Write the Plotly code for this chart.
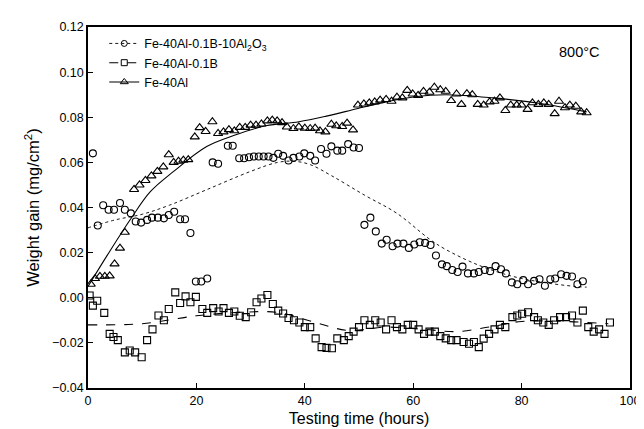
import plotly.graph_objects as go

# ---- data: Fe-40Al-0.1B-10Al2O3 (circles)
circ_x = [0.9, 1.8, 2.8, 3.8, 4.8, 5.9, 6.8, 7.9, 8.8, 9.8, 10.9, 11.8, 12.9, 14.0, 14.9, 15.9, 17.0, 17.9, 18.9,
          19.9, 20.9, 22.0, 23.0, 24.0, 25.8, 26.7, 27.9, 28.8, 29.7, 30.6, 31.5, 32.4, 33.3, 34.2, 35.1, 36.0,
          37.0, 37.9, 39.0, 39.9, 41.0, 41.9, 43.0, 44.0, 44.9, 46.0, 46.9, 48.0, 49.0, 50.0,
          51.0, 52.1, 53.1, 54.2, 55.1, 56.2, 57.1, 58.2, 59.2, 60.2, 61.2, 62.2, 63.2, 64.2, 65.3, 66.2,
          67.2, 68.2, 69.1, 70.1, 71.2, 72.1, 73.2, 74.2, 75.2, 76.2, 77.1, 78.2, 79.2, 80.3, 81.2, 82.3,
          83.3, 84.3, 85.3, 86.2, 87.3, 88.3, 89.3, 90.3, 91.3]
circ_y = [0.064, 0.032, 0.041, 0.039, 0.039, 0.042, 0.039, 0.0374, 0.0338, 0.0333, 0.0345, 0.0355, 0.0355, 0.0352,
          0.0367, 0.0381, 0.0348, 0.0348, 0.0287,
          0.0072, 0.0072, 0.0085, 0.060, 0.0594, 0.0674, 0.0674, 0.0618, 0.0618, 0.0623, 0.0626, 0.0626, 0.0626,
          0.0626, 0.062, 0.0638, 0.0629,
          0.0608, 0.062, 0.0626, 0.064, 0.0629, 0.0608, 0.0659, 0.0638, 0.0671, 0.0652, 0.0652, 0.0681, 0.0666, 0.0664,
          0.0323, 0.0355, 0.0294, 0.024, 0.0257, 0.0228, 0.024, 0.024, 0.0221, 0.0236, 0.0246, 0.0243, 0.0234,
          0.0187, 0.0148, 0.014,
          0.0123, 0.0114, 0.0138, 0.0108, 0.0108, 0.0114, 0.0123, 0.0118, 0.014, 0.0126, 0.0108, 0.0068, 0.006,
          0.0078, 0.006, 0.0075,
          0.0082, 0.0053, 0.0082, 0.0085, 0.0104, 0.0097, 0.0094, 0.006, 0.0073]

# ---- data: Fe-40Al-0.1B (squares)
sq_x = [0.3, 0.9, 1.7, 3.0, 4.0, 4.7, 5.5, 6.8, 7.7, 8.7, 9.9, 10.9, 11.9, 13.0, 14.0, 14.9, 16.1, 17.0, 18.0,
        18.9, 19.9, 21.1, 22.0, 23.1, 24.1, 25.0, 26.0, 27.0, 28.0, 29.1, 30.1, 31.1, 32.0, 33.1, 34.1, 35.1,
        36.0, 37.0, 38.0, 39.0, 40.0, 41.0, 42.0, 43.1, 44.0, 45.0, 46.0, 47.2, 48.1, 49.0, 50.0, 51.0, 52.0,
        53.0, 54.0, 55.0, 56.0, 57.0, 58.0, 59.0, 60.0, 61.0, 62.0, 63.0, 64.0, 65.0, 66.0, 67.0, 68.0, 69.3,
        70.3, 71.2, 72.1, 73.0, 74.0, 75.0, 76.0, 77.0, 78.3, 79.2, 80.1, 81.2, 82.3, 83.0, 84.0, 85.0, 86.0,
        87.1, 88.2, 89.3, 90.3, 91.3, 92.3, 93.3, 94.3, 95.3, 96.3]
sq_y = [0.001, -0.0035, -0.0013, -0.0067, -0.016, -0.0174, -0.0188, -0.0242, -0.0234, -0.0242, -0.0264, -0.0188,
        -0.014, -0.0079, -0.010, -0.005, 0.0024, -0.0023, 0.0006,
        -0.002, 0.0004, -0.005, -0.0067, -0.0046, -0.0061, -0.0046, -0.0067, -0.0061, -0.008, -0.0086, -0.0064,
        -0.002, -0.0003, 0.0012, -0.0028, -0.0057,
        -0.007, -0.009, -0.010, -0.011, -0.013, -0.013, -0.018, -0.0219, -0.0222, -0.0224, -0.018, -0.0188,
        -0.017, -0.015, -0.013, -0.010, -0.012,
        -0.010, -0.011, -0.014, -0.010, -0.013, -0.014, -0.012, -0.012, -0.014, -0.016, -0.015, -0.015, -0.017,
        -0.018, -0.0188, -0.0188, -0.0196,
        -0.0204, -0.0196, -0.0219, -0.0181, -0.016, -0.014, -0.012, -0.013, -0.0086, -0.0079, -0.0071, -0.0064,
        -0.0086, -0.010, -0.011, -0.012, -0.010,
        -0.0086, -0.0086, -0.0079, -0.011, -0.0057, -0.013, -0.015, -0.014, -0.016, -0.011]

# ---- data: Fe-40Al (triangles)
tri_x = [0.5, 1.3, 2.2, 3.1, 4.0, 4.9, 5.9, 6.8, 8.5, 9.5, 10.6, 11.7, 12.8, 13.9, 14.9, 15.8, 16.7, 17.6, 18.5,
         19.7, 20.6, 21.7, 22.95, 24.0, 25.0, 26.0, 27.0, 28.0, 29.0, 30.0, 31.0, 32.0, 33.1, 34.0, 34.9, 35.8,
         36.7, 37.9, 38.9, 40.0, 41.0, 41.9, 42.8, 43.8, 44.9, 45.8, 46.9, 47.8, 48.9,
         49.8, 50.9, 51.9, 52.9, 53.9, 55.0, 56.0, 57.0, 58.0, 58.9, 59.9, 60.9, 61.9, 63.0, 63.9, 65.0, 66.0,
         67.0, 68.0, 68.9, 69.9, 70.9, 71.9, 73.0, 74.1, 75.0, 76.0, 77.0, 78.0, 79.1, 80.0, 81.1, 82.0, 83.1,
         84.1, 85.0, 86.1, 86.9, 88.0, 88.9, 90.0, 91.0, 92.0]
tri_y = [0.006, 0.0085, 0.0095, 0.0095, 0.0097, 0.015, 0.022, 0.029, 0.048, 0.050, 0.052, 0.054, 0.056, 0.058,
         0.0634, 0.060, 0.0605, 0.061, 0.0612,
         0.0713, 0.0754, 0.0737, 0.078, 0.0728, 0.0735, 0.0745, 0.074, 0.0755, 0.0755, 0.0765, 0.0765, 0.077,
         0.0784, 0.0787, 0.0784, 0.0776,
         0.0757, 0.075, 0.0757, 0.0752, 0.075, 0.0752, 0.074, 0.0735, 0.0769, 0.0762, 0.0759, 0.0774, 0.0744,
         0.0854, 0.0859, 0.0864, 0.0868, 0.0876, 0.0879, 0.0871, 0.0889, 0.0886, 0.0919, 0.0903, 0.0897, 0.0915,
         0.0911, 0.0933, 0.0922, 0.0915,
         0.0874, 0.0903, 0.0857, 0.0905, 0.090, 0.0857, 0.0854, 0.0868, 0.0871, 0.0886, 0.083, 0.0854, 0.0854,
         0.0854, 0.0835, 0.0864, 0.0857,
         0.0864, 0.0857, 0.0816, 0.0871, 0.0842, 0.0854, 0.0849, 0.0824, 0.082]

# ---- fitted curves (knots)
fit_circ_x = [0, 5, 10, 15, 22, 30, 35, 38, 41, 45, 51, 57, 63, 66, 72, 78, 84, 90, 92]
fit_circ_y = [0.031, 0.0345, 0.037, 0.041, 0.048, 0.056, 0.060, 0.0605, 0.059, 0.054, 0.0455, 0.0374, 0.026,
              0.0214, 0.0145, 0.0097, 0.0068, 0.005, 0.0047]
fit_sq_x = [0, 10, 20, 28, 35, 42, 48, 55, 62, 68, 74, 80, 88, 96]
fit_sq_y = [-0.012, -0.0115, -0.008, -0.0065, -0.0065, -0.011, -0.0145, -0.013, -0.014, -0.015, -0.013,
            -0.0105, -0.0105, -0.0115]
fit_tri_x = [0, 3.6, 7.9, 11.5, 15.8, 21.9, 27, 32.8, 38.9, 44, 49.8, 55, 60, 66, 74.7, 83.8, 92]
fit_tri_y = [0.005, 0.019, 0.035, 0.047, 0.056, 0.067, 0.072, 0.0762, 0.078, 0.0805, 0.0839, 0.0868, 0.089,
             0.090, 0.0886, 0.086, 0.0824]

names = ["Fe-40Al-0.1B-10Al<sub>2</sub>O<sub>3</sub>", "Fe-40Al-0.1B", "Fe-40Al"]
x_ticks = [0, 20, 40, 60, 80, 100]
y_ticks = [-0.04, -0.02, 0.00, 0.02, 0.04, 0.06, 0.08, 0.10, 0.12]

FONT = "Arial, Liberation Sans, sans-serif"
fig = go.Figure()

series = [
    (circ_x, circ_y, fit_circ_x, fit_circ_y, "circle-open", "dot", 7),
    (sq_x, sq_y, fit_sq_x, fit_sq_y, "square-open", "dash", 7),
    (tri_x, tri_y, fit_tri_x, fit_tri_y, "triangle-up-open", "solid", 8),
]
for (sx, sy, fx, fy, sym, dash, ms), nm in zip(series, names):
    lw = 0.9 if dash == "dot" else 1.1
    fig.add_trace(go.Scatter(x=fx, y=fy, mode="lines", line=dict(color="black", width=lw, dash=dash,
                                                                   shape="spline", smoothing=1.0),
                             showlegend=False, hoverinfo="skip"))
    fig.add_trace(go.Scatter(x=sx, y=sy, mode="markers",
                             marker=dict(symbol=sym, size=ms, color="black", line=dict(width=1.1, color="black")),
                             showlegend=False))
    fig.add_trace(go.Scatter(x=[None], y=[None], mode="lines+markers", name=nm,
                             line=dict(color="black", width=lw, dash=dash),
                             marker=dict(symbol=sym, size=ms - 1, color="black", line=dict(width=1.0, color="black"))))

fig.add_annotation(x=0.947, y=0.93, xref="paper", yref="paper", text="800°C", showarrow=False,
                   xanchor="right", yanchor="middle", font=dict(size=14.5, family=FONT, color="black"))

fig.update_layout(
    width=644, height=429,
    margin=dict(l=80, r=15, t=15, b=49),
    paper_bgcolor="white", plot_bgcolor="white",
    font=dict(family=FONT, size=12.5, color="black"),
    showlegend=True,
    legend=dict(x=0.03, y=0.995, xanchor="left", yanchor="top", bgcolor="rgba(0,0,0,0)",
                font=dict(size=12.5, family=FONT), itemwidth=30, tracegroupgap=0),
    xaxis=dict(range=[0, 100], tickvals=x_ticks, ticks="inside", ticklen=5, tickwidth=1, tickcolor="black",
               showline=True, linecolor="black", linewidth=1.5, mirror=True, showgrid=False, zeroline=False,
               title=dict(text="Testing time (hours)", font=dict(size=16), standoff=6),
               tickfont=dict(size=12.5)),
    yaxis=dict(range=[-0.04, 0.12], tickvals=y_ticks, tickformat=".2f", ticks="inside", ticklen=5, tickwidth=1,
               tickcolor="black", showline=True, linecolor="black", linewidth=1.5, mirror=True, showgrid=False,
               zeroline=False, title=dict(text="Weight gain (mg/cm<sup>2</sup>)", font=dict(size=16.5), standoff=8),
               tickfont=dict(size=12.5)),
)

fig.write_html("out.html")
